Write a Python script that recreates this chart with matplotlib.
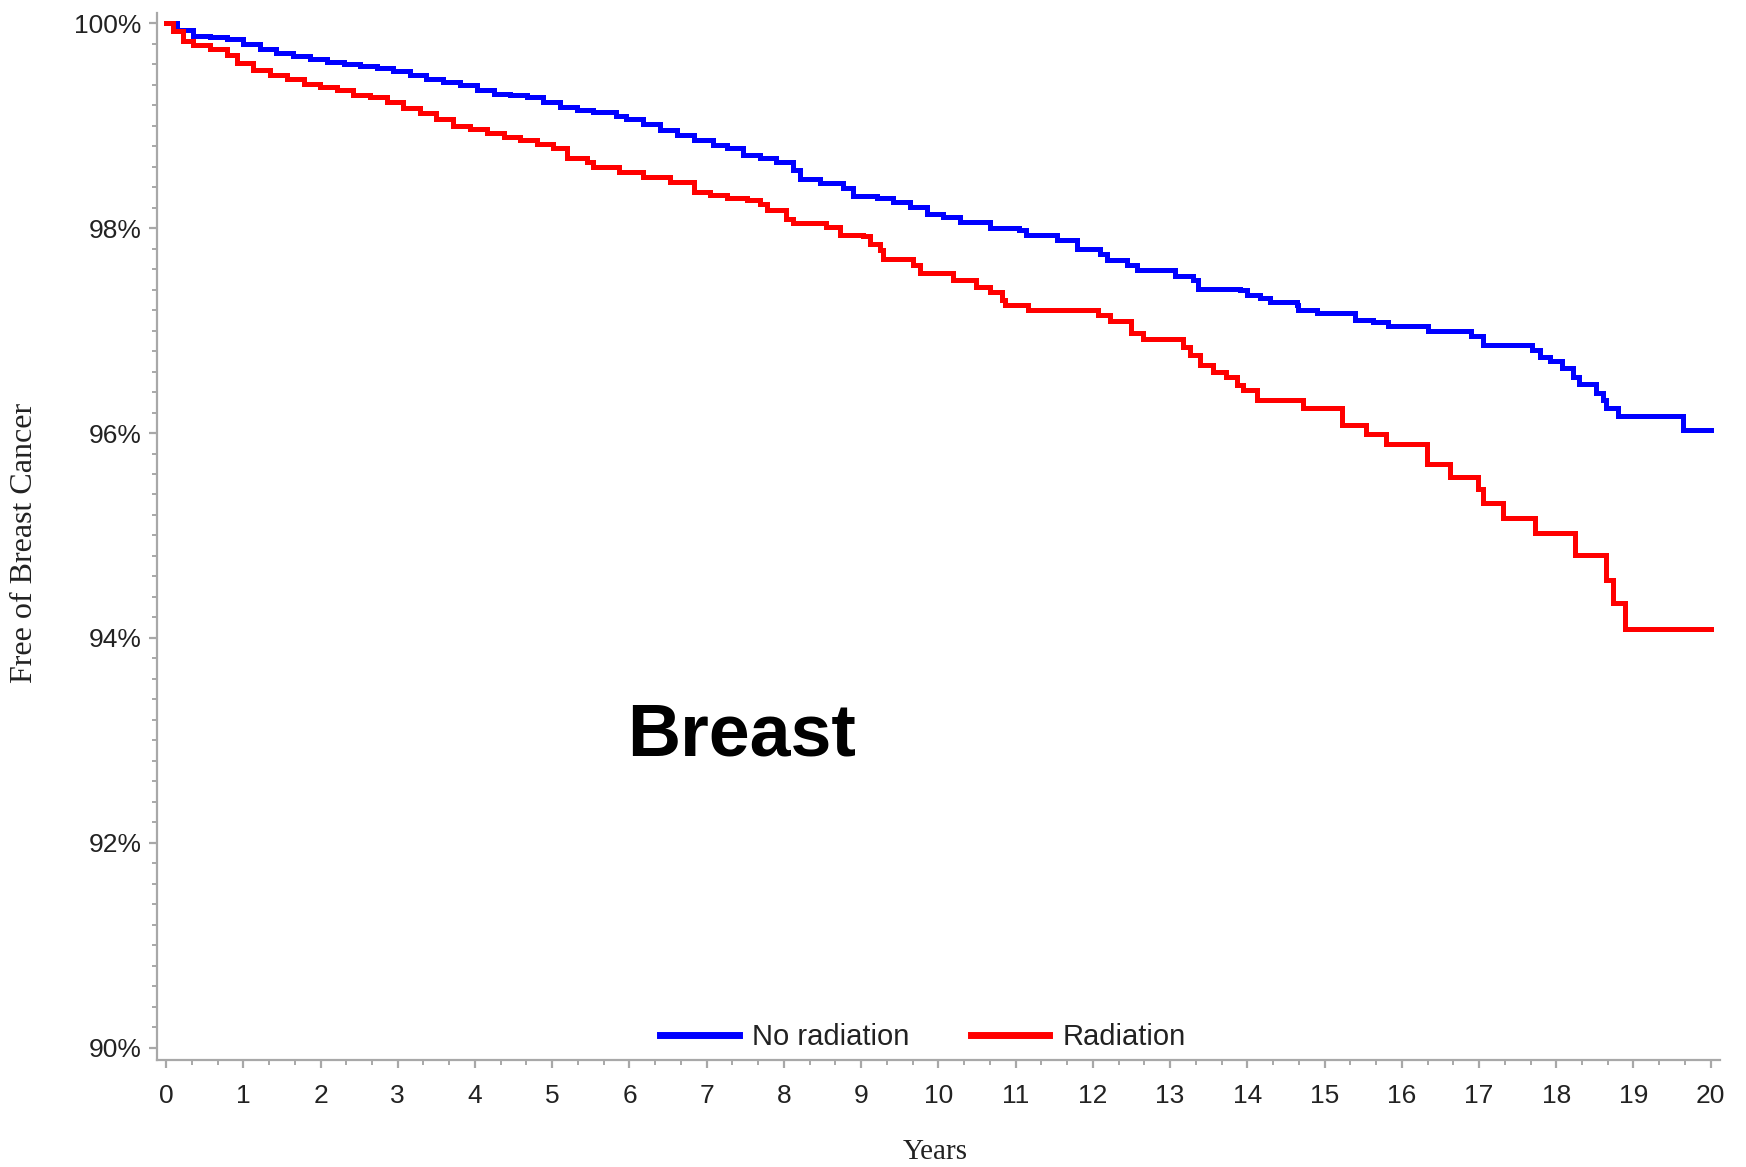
import numpy as np
import matplotlib
matplotlib.use('Agg')
import matplotlib.pyplot as plt
from matplotlib.ticker import MultipleLocator, FuncFormatter

# Kaplan-Meier style estimates, years vs percent free of breast cancer
t_norad = [0, 0.14, 0.35, 0.57, 0.79, 1.0, 1.22, 1.43, 1.65, 1.86, 2.08, 2.3,
           2.51, 2.73, 2.94, 3.16, 3.37, 3.59, 3.81, 4.02, 4.24, 4.45, 4.67,
           4.88, 5.1, 5.32, 5.53, 5.83, 5.96, 6.18, 6.39, 6.61, 6.83, 7.08,
           7.26, 7.47, 7.69, 7.9, 8.12, 8.21, 8.47, 8.77, 8.9, 9.2, 9.41, 9.63,
           9.85, 10.06, 10.28, 10.67, 11.05, 11.14, 11.53, 11.79, 12.09, 12.18,
           12.44, 12.57, 13.06, 13.3, 13.36, 13.9, 13.99, 14.16, 14.29, 14.64,
           14.66, 14.9, 15.39, 15.63, 15.82, 16.34, 16.9, 17.05, 17.68, 17.79,
           17.92, 18.07, 18.22, 18.3, 18.52, 18.61, 18.65, 18.8, 19.64, 20.0]
s_norad = [100.0, 99.93, 99.88, 99.87, 99.85, 99.80, 99.75, 99.71, 99.68, 99.65,
           99.62, 99.60, 99.58, 99.56, 99.53, 99.49, 99.46, 99.43, 99.40, 99.35,
           99.31, 99.30, 99.28, 99.23, 99.18, 99.15, 99.13, 99.09, 99.07, 99.02,
           98.96, 98.91, 98.86, 98.81, 98.78, 98.71, 98.68, 98.65, 98.57, 98.48,
           98.44, 98.39, 98.31, 98.29, 98.26, 98.21, 98.14, 98.11, 98.06, 98.00,
           97.98, 97.93, 97.88, 97.80, 97.75, 97.69, 97.64, 97.59, 97.53, 97.49,
           97.41, 97.40, 97.35, 97.32, 97.28, 97.25, 97.20, 97.17, 97.10, 97.08,
           97.04, 97.00, 96.95, 96.86, 96.81, 96.74, 96.70, 96.63, 96.55, 96.48,
           96.39, 96.32, 96.24, 96.17, 96.03, 96.03]

t_rad = [0, 0.09, 0.22, 0.35, 0.57, 0.79, 0.92, 1.13, 1.35, 1.56, 1.78, 1.99,
         2.21, 2.42, 2.64, 2.86, 3.07, 3.29, 3.5, 3.72, 3.94, 4.15, 4.37, 4.58,
         4.8, 5.01, 5.19, 5.45, 5.53, 5.86, 6.18, 6.52, 6.83, 7.04, 7.26, 7.52,
         7.69, 7.78, 8.03, 8.12, 8.55, 8.72, 9.03, 9.11, 9.24, 9.28, 9.67, 9.76,
         10.19, 10.49, 10.67, 10.82, 10.86, 11.16, 12.07, 12.22, 12.5, 12.65,
         13.17, 13.26, 13.39, 13.56, 13.73, 13.86, 13.95, 14.12, 14.72, 15.22,
         15.54, 15.8, 16.33, 16.62, 16.99, 17.05, 17.31, 17.72, 18.24, 18.65,
         18.74, 18.89, 20.0]
s_rad = [100.0, 99.92, 99.83, 99.79, 99.75, 99.69, 99.61, 99.54, 99.49, 99.46,
         99.41, 99.38, 99.35, 99.30, 99.28, 99.23, 99.17, 99.12, 99.07, 99.00,
         98.97, 98.93, 98.89, 98.86, 98.82, 98.78, 98.68, 98.65, 98.60, 98.55,
         98.50, 98.45, 98.35, 98.32, 98.29, 98.27, 98.24, 98.18, 98.09, 98.05,
         98.01, 97.93, 97.92, 97.85, 97.79, 97.70, 97.64, 97.56, 97.49, 97.43,
         97.38, 97.30, 97.25, 97.20, 97.15, 97.09, 96.98, 96.92, 96.84, 96.76,
         96.66, 96.60, 96.55, 96.47, 96.42, 96.32, 96.24, 96.08, 95.99, 95.89,
         95.70, 95.57, 95.45, 95.32, 95.17, 95.02, 94.81, 94.57, 94.34, 94.09,
         94.09]

x_ticks = list(range(0, 21))
y_ticks = [90, 92, 94, 96, 98, 100]

W, H = 1746, 1167
fig = plt.figure(figsize=(W / 100, H / 100), dpi=100)
# axes box in pixels: left 157, right 1720, top 13, bottom 1060
ax = fig.add_axes([157 / W, 1 - 1060 / H, (1720 - 157) / W, (1060 - 13) / H])

ax.step(t_norad, s_norad, where='post', color='#0000ff', lw=3.6, label='No radiation',
        solid_joinstyle='miter')
ax.step(t_rad, s_rad, where='post', color='#ff0000', lw=3.6, label='Radiation',
        solid_joinstyle='miter')

ax.set_xlim(-0.117, 20.12)
ax.set_ylim(89.88, 100.1)

for side in ['top', 'right']:
    ax.spines[side].set_visible(False)
for side in ['left', 'bottom']:
    ax.spines[side].set_color('#a8a8a8')
    ax.spines[side].set_linewidth(1.6)

ax.set_xticks(x_ticks)
ax.set_yticks(y_ticks)
ax.xaxis.set_minor_locator(MultipleLocator(1 / 3))
ax.yaxis.set_minor_locator(MultipleLocator(0.2))
ax.yaxis.set_major_formatter(FuncFormatter(lambda v, p: '%d%%' % round(v)))
ax.tick_params(which='major', length=6, width=1.6, color='#a8a8a8',
               labelsize=19, labelcolor='#222222')
ax.tick_params(axis='x', which='major', pad=11)
ax.tick_params(axis='y', which='major', pad=5)
ax.tick_params(which='minor', length=3.5, width=1.4, color='#a8a8a8')
for lab in ax.get_xticklabels() + ax.get_yticklabels():
    lab.set_family('Liberation Sans')

fig.text(25 / W, 1 - 543 / H, 'Free of Breast Cancer', rotation=90,
         ha='center', va='center', fontsize=23, family='Liberation Serif',
         color='#222222')
fig.text(935 / W, 1 - 1152 / H, 'Years', ha='center', va='center',
         fontsize=21, family='Liberation Serif', color='#222222')

fig.text(742 / W, 1 - 755 / H, 'Breast', ha='center', va='baseline',
         fontsize=53, fontweight='bold', family='Liberation Sans', color='black')

leg = ax.legend(loc='center', bbox_to_anchor=(0.49, 0.022), ncol=2,
                frameon=False, prop={'family': 'Liberation Sans', 'size': 21},
                handlelength=2.7, handletextpad=0.45, columnspacing=2.1)
for line in leg.get_lines():
    line.set_linewidth(5)
for txt in leg.get_texts():
    txt.set_color('#222222')

fig.savefig('out.png', dpi=100, facecolor='white')
